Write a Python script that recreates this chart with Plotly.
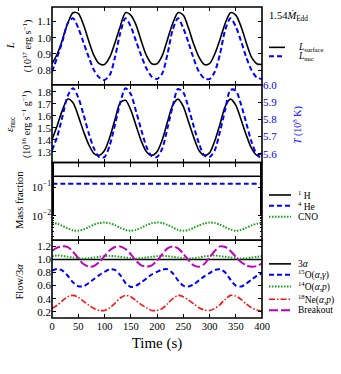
import plotly.graph_objects as go

# ---- data ----
time_s = [0, 10, 20, 30, 40, 50, 60, 70, 80, 90, 100, 110, 120, 130, 140, 150, 160, 170, 180, 190, 200,
          210, 220, 230, 240, 250, 260, 270, 280, 290, 300, 310, 320, 330, 340, 350, 360, 370, 380, 390, 400]
time_flat = [0, 100, 200, 300, 400]

l_surface = [0.84, 0.90, 0.99, 1.09, 1.155, 1.15, 1.08, 0.98, 0.89, 0.84, 0.835, 0.88, 0.97, 1.07, 1.155,
             1.14, 1.08, 0.98, 0.89, 0.84, 0.84, 0.89, 0.99, 1.09, 1.155, 1.14, 1.06, 0.96, 0.88, 0.835,
             0.84, 0.90, 0.99, 1.09, 1.155, 1.14, 1.07, 0.97, 0.88, 0.84, 0.835]
l_nuc = [0.79, 0.88, 0.98, 1.09, 1.12, 1.06, 0.97, 0.88, 0.80, 0.755, 0.74, 0.77, 0.88, 1.03, 1.12,
         1.07, 0.98, 0.89, 0.81, 0.76, 0.745, 0.78, 0.90, 1.05, 1.12, 1.06, 0.97, 0.87, 0.79, 0.75,
         0.745, 0.79, 0.90, 1.05, 1.12, 1.07, 0.98, 0.88, 0.80, 0.755, 0.745]

eps_nuc = [1.40, 1.52, 1.65, 1.74, 1.71, 1.60, 1.47, 1.36, 1.285, 1.27, 1.31, 1.42, 1.57, 1.71, 1.73,
           1.65, 1.52, 1.39, 1.30, 1.27, 1.30, 1.40, 1.55, 1.69, 1.74, 1.68, 1.55, 1.42, 1.31, 1.27,
           1.29, 1.39, 1.53, 1.68, 1.74, 1.69, 1.57, 1.44, 1.33, 1.27, 1.29]
temp_t8 = [5.62, 5.70, 5.82, 5.94, 5.985, 5.93, 5.83, 5.72, 5.63, 5.58, 5.58, 5.65, 5.77, 5.90, 5.985,
           5.95, 5.85, 5.74, 5.64, 5.585, 5.58, 5.63, 5.75, 5.88, 5.98, 5.96, 5.87, 5.76, 5.66, 5.59,
           5.58, 5.62, 5.73, 5.86, 5.975, 5.97, 5.89, 5.78, 5.67, 5.595, 5.57]

x_h1 = [0.236, 0.235, 0.236, 0.235, 0.236]
x_he4 = [0.131, 0.130, 0.131, 0.130, 0.131]
x_cno = [0.0058, 0.0054, 0.0045, 0.0037, 0.0032, 0.0031, 0.0034, 0.0041, 0.0050, 0.0057, 0.0059,
         0.0056, 0.0048, 0.0039, 0.0033, 0.0031, 0.0033, 0.0039, 0.0048, 0.0056, 0.0059, 0.0057,
         0.0049, 0.0040, 0.0033, 0.0031, 0.0033, 0.0039, 0.0047, 0.0055, 0.0059, 0.0057, 0.0050,
         0.0041, 0.0034, 0.0031, 0.0033, 0.0039, 0.0047, 0.0054, 0.0058]

flow_3a = [1.0, 1.0, 1.0, 1.0, 1.0]
flow_o15 = [0.83, 0.855, 0.83, 0.75, 0.65, 0.59, 0.59, 0.64, 0.70, 0.76, 0.81, 0.85, 0.84, 0.76, 0.64,
            0.58, 0.60, 0.65, 0.71, 0.77, 0.81, 0.845, 0.85, 0.79, 0.68, 0.60, 0.585, 0.62, 0.68, 0.74,
            0.79, 0.84, 0.85, 0.80, 0.69, 0.60, 0.585, 0.63, 0.69, 0.75, 0.79]
flow_o14 = [1.05, 1.06, 1.055, 1.04, 1.03, 1.02, 1.015, 1.02, 1.03, 1.04, 1.05, 1.055, 1.05, 1.04, 1.03,
            1.02, 1.015, 1.02, 1.03, 1.04, 1.05, 1.055, 1.05, 1.04, 1.03, 1.02, 1.015, 1.02, 1.03, 1.045,
            1.055, 1.06, 1.05, 1.04, 1.03, 1.02, 1.015, 1.02, 1.03, 1.04, 1.05]
flow_ne18 = [0.25, 0.30, 0.37, 0.43, 0.45, 0.42, 0.36, 0.30, 0.25, 0.22, 0.22, 0.26, 0.33, 0.41, 0.45,
             0.43, 0.37, 0.31, 0.26, 0.22, 0.22, 0.25, 0.32, 0.40, 0.45, 0.43, 0.38, 0.32, 0.26, 0.225,
             0.22, 0.25, 0.31, 0.39, 0.45, 0.44, 0.39, 0.32, 0.26, 0.225, 0.21]
flow_breakout = [1.13, 1.18, 1.20, 1.19, 1.12, 1.02, 0.93, 0.89, 0.90, 0.96, 1.05, 1.14, 1.19, 1.20, 1.16,
                 1.08, 0.98, 0.91, 0.89, 0.91, 0.98, 1.08, 1.17, 1.20, 1.17, 1.09, 0.99, 0.91, 0.89, 0.93,
                 1.03, 1.13, 1.20, 1.19, 1.13, 1.04, 0.96, 0.91, 0.89, 0.90, 0.94]

x_ticks = [0, 50, 100, 150, 200, 250, 300, 350, 400]

# ---- styling ----
FONT = 'Liberation Serif'
BLACK = '#000000'
BLUE = '#0000ff'
GREEN = '#14a014'
RED = '#ff1010'
MAGENTA = '#c000c0'
DASH = '5px,3px'
DOT = '1.5px,1.5px'
DASHDOT = '6px,2px,1.5px,2px'
LONGDASH = '9px,3px'
FRAME_W = 1.6

W, H = 341, 374
M_L, M_R, M_T, M_B = 52, 79, 2, 56
PW = W - M_L - M_R
PH = H - M_T - M_B


def paper_x(px):
    return (px - M_L) / PW


def paper_y(py):
    return (H - M_B - py) / PH


def line(x, y, color, dash, xa, ya, width=1.6):
    return go.Scatter(x=x, y=y, mode='lines', xaxis=xa, yaxis=ya, showlegend=False,
                      line=dict(color=color, dash=dash, width=width, shape='spline', smoothing=0.8))


fig = go.Figure()

fig.add_trace(line(time_s, l_surface, BLACK, 'solid', 'x', 'y'))
fig.add_trace(line(time_s, l_nuc, BLUE, DASH, 'x', 'y', 2))

fig.add_trace(line(time_s, eps_nuc, BLACK, 'solid', 'x2', 'y2'))
fig.add_trace(line(time_s, temp_t8, BLUE, DASH, 'x2', 'y5', 2))

fig.add_trace(line(time_flat, x_h1, BLACK, 'solid', 'x3', 'y3'))
fig.add_trace(line(time_flat, x_he4, BLUE, DASH, 'x3', 'y3', 2))
fig.add_trace(line(time_s, x_cno, GREEN, DOT, 'x3', 'y3', 2))

fig.add_trace(line(time_flat, flow_3a, BLACK, 'solid', 'x4', 'y4'))
fig.add_trace(line(time_s, flow_o15, BLUE, DASH, 'x4', 'y4', 2))
fig.add_trace(line(time_s, flow_o14, GREEN, DOT, 'x4', 'y4', 2))
fig.add_trace(line(time_s, flow_ne18, RED, DASHDOT, 'x4', 'y4', 1.6))
fig.add_trace(line(time_s, flow_breakout, MAGENTA, LONGDASH, 'x4', 'y4', 2))

# axis lines off: each panel gets one framing rectangle instead, so shared edges are a single line
axis_common = dict(showline=False, ticks='inside', ticklen=4,
                   tickcolor='black', tickwidth=1, showgrid=False, zeroline=False,
                   tickfont=dict(family=FONT, size=11, color='black'))

x_common = dict(axis_common, range=[0, 400], tickvals=x_ticks, mirror='ticks')
domains = [[0.75, 1.0], [0.5, 0.75], [0.25, 0.5], [0.0, 0.25]]

layout = dict(
    width=W, height=H,
    margin=dict(l=M_L, r=M_R, t=M_T, b=M_B),
    paper_bgcolor='white', plot_bgcolor='white',
    font=dict(family=FONT, color='black'),
    xaxis=dict(x_common, anchor='y', showticklabels=False),
    xaxis2=dict(x_common, anchor='y2', showticklabels=False),
    xaxis3=dict(x_common, anchor='y3', showticklabels=False),
    xaxis4=dict(x_common, anchor='y4', showticklabels=True,
                tickfont=dict(family=FONT, size=10.5, color='black'),
                title=dict(text='Time (s)', font=dict(family=FONT, size=15), standoff=6)),
    yaxis=dict(axis_common, domain=domains[0], anchor='x', range=[0.71, 1.19], mirror='ticks',
               tickvals=[0.8, 0.9, 1.0, 1.1], tickformat='.1f'),
    yaxis2=dict(axis_common, domain=domains[1], anchor='x2', range=[1.21, 1.86], mirror=False,
                tickvals=[1.3, 1.4, 1.5, 1.6, 1.7, 1.8], tickformat='.1f'),
    yaxis5=dict(axis_common, overlaying='y2', anchor='x2', side='right', range=[5.548, 6.005],
                tickvals=[5.6, 5.7, 5.8, 5.9, 6.0], tickformat='.1f',
                tickfont=dict(family=FONT, size=11, color=BLUE)),
    yaxis3=dict(axis_common, domain=domains[2], anchor='x3', type='log', range=[-2.84, -0.15],
                mirror='ticks', tickvals=[0.01, 0.1],
                ticktext=['10<sup>−2</sup>', '10<sup>−1</sup>'],
                minor=dict(ticks='inside', ticklen=2, tickcolor='black', showgrid=False)),
    yaxis4=dict(axis_common, domain=domains[3], anchor='x4', range=[0.104, 1.294], mirror='ticks',
                tickvals=[0.2, 0.4, 0.6, 0.8, 1.0, 1.2], tickformat='.1f'),
)
fig.update_layout(**layout)

for xa, ya in [('x', 'y'), ('x2', 'y2'), ('x3', 'y3'), ('x4', 'y4')]:
    fig.add_shape(type='rect', xref=f'{xa} domain', yref=f'{ya} domain', x0=0, x1=1, y0=0, y1=1,
                  line=dict(color='black', width=FRAME_W), fillcolor='rgba(0,0,0,0)', layer='above')

# axis titles placed as rotated text, matplotlib style (x px, y px, text, size, colour)
axis_titles = [
    (10, 42, '<i>L</i>', 11, BLACK),
    (27, 42, '(10<sup>37</sup> erg s<sup>−1</sup>)', 10, BLACK),
    (10, 121, '<i>ε</i><sub>nuc</sub>', 11, BLACK),
    (26, 121, '(10<sup>16</sup> erg s<sup>−1</sup> g<sup>−1</sup>)', 10, BLACK),
    (20, 198, 'Mass fraction', 10.5, BLACK),
    (20, 281, 'Flow/3<i>α</i>', 10.5, BLACK),
    (297, 122, '<i>T</i> (10<sup>8</sup> K)', 10, BLUE),
]
for x_px, y_px, text, size, color in axis_titles:
    fig.add_annotation(xref='paper', yref='paper', x=paper_x(x_px), y=paper_y(y_px), showarrow=False,
                       xanchor='center', yanchor='middle', textangle=-90, text=text,
                       font=dict(family=FONT, size=size, color=color))

fig.add_annotation(xref='paper', yref='paper', x=paper_x(267), y=paper_y(12), showarrow=False,
                   xanchor='left', yanchor='middle', text='1.54<i>M\u0307</i><sub>Edd</sub>',
                   font=dict(family=FONT, size=10.5))

# hand-placed legend keys, matplotlib style
legend_keys = [
    (43, '<i>L</i><sub>surface</sub>', BLACK, 'solid', 1.6, 285),
    (52, '<i>L</i><sub>nuc</sub>', BLUE, DASH, 2, 285),
    (193, '<sup>1</sup> H', BLACK, 'solid', 1.6, 291),
    (204, '<sup>4</sup> He', BLUE, DASH, 2, 291),
    (215, 'CNO', GREEN, DOT, 2, 291),
    (263, '3<i>α</i>', BLACK, 'solid', 1.6, 291),
    (274, '<sup>15</sup>O(<i>α</i>,<i>γ</i>)', BLUE, DASH, 2, 291),
    (286, '<sup>14</sup>O(<i>α</i>,<i>p</i>)', GREEN, DOT, 2, 291),
    (299, '<sup>18</sup>Ne(<i>α</i>,<i>p</i>)', RED, DASHDOT, 1.6, 291),
    (310, 'Breakout', MAGENTA, LONGDASH, 2, 291),
]
for y_px, label, color, dash, width, x_end in legend_keys:
    y = paper_y(y_px)
    fig.add_shape(type='line', xref='paper', yref='paper', x0=paper_x(269), x1=paper_x(x_end),
                  y0=y, y1=y, line=dict(color=color, dash=dash, width=width))
    fig.add_annotation(xref='paper', yref='paper', x=paper_x(296), y=y, showarrow=False,
                       xanchor='left', yanchor='middle', text=label,
                       font=dict(family=FONT, size=9.5))

# drop the default 8px page margin so the figure sits flush in the window
fig.write_html("out.html", config={'displayModeBar': False},
               post_script="document.body.style.margin = '0';")
